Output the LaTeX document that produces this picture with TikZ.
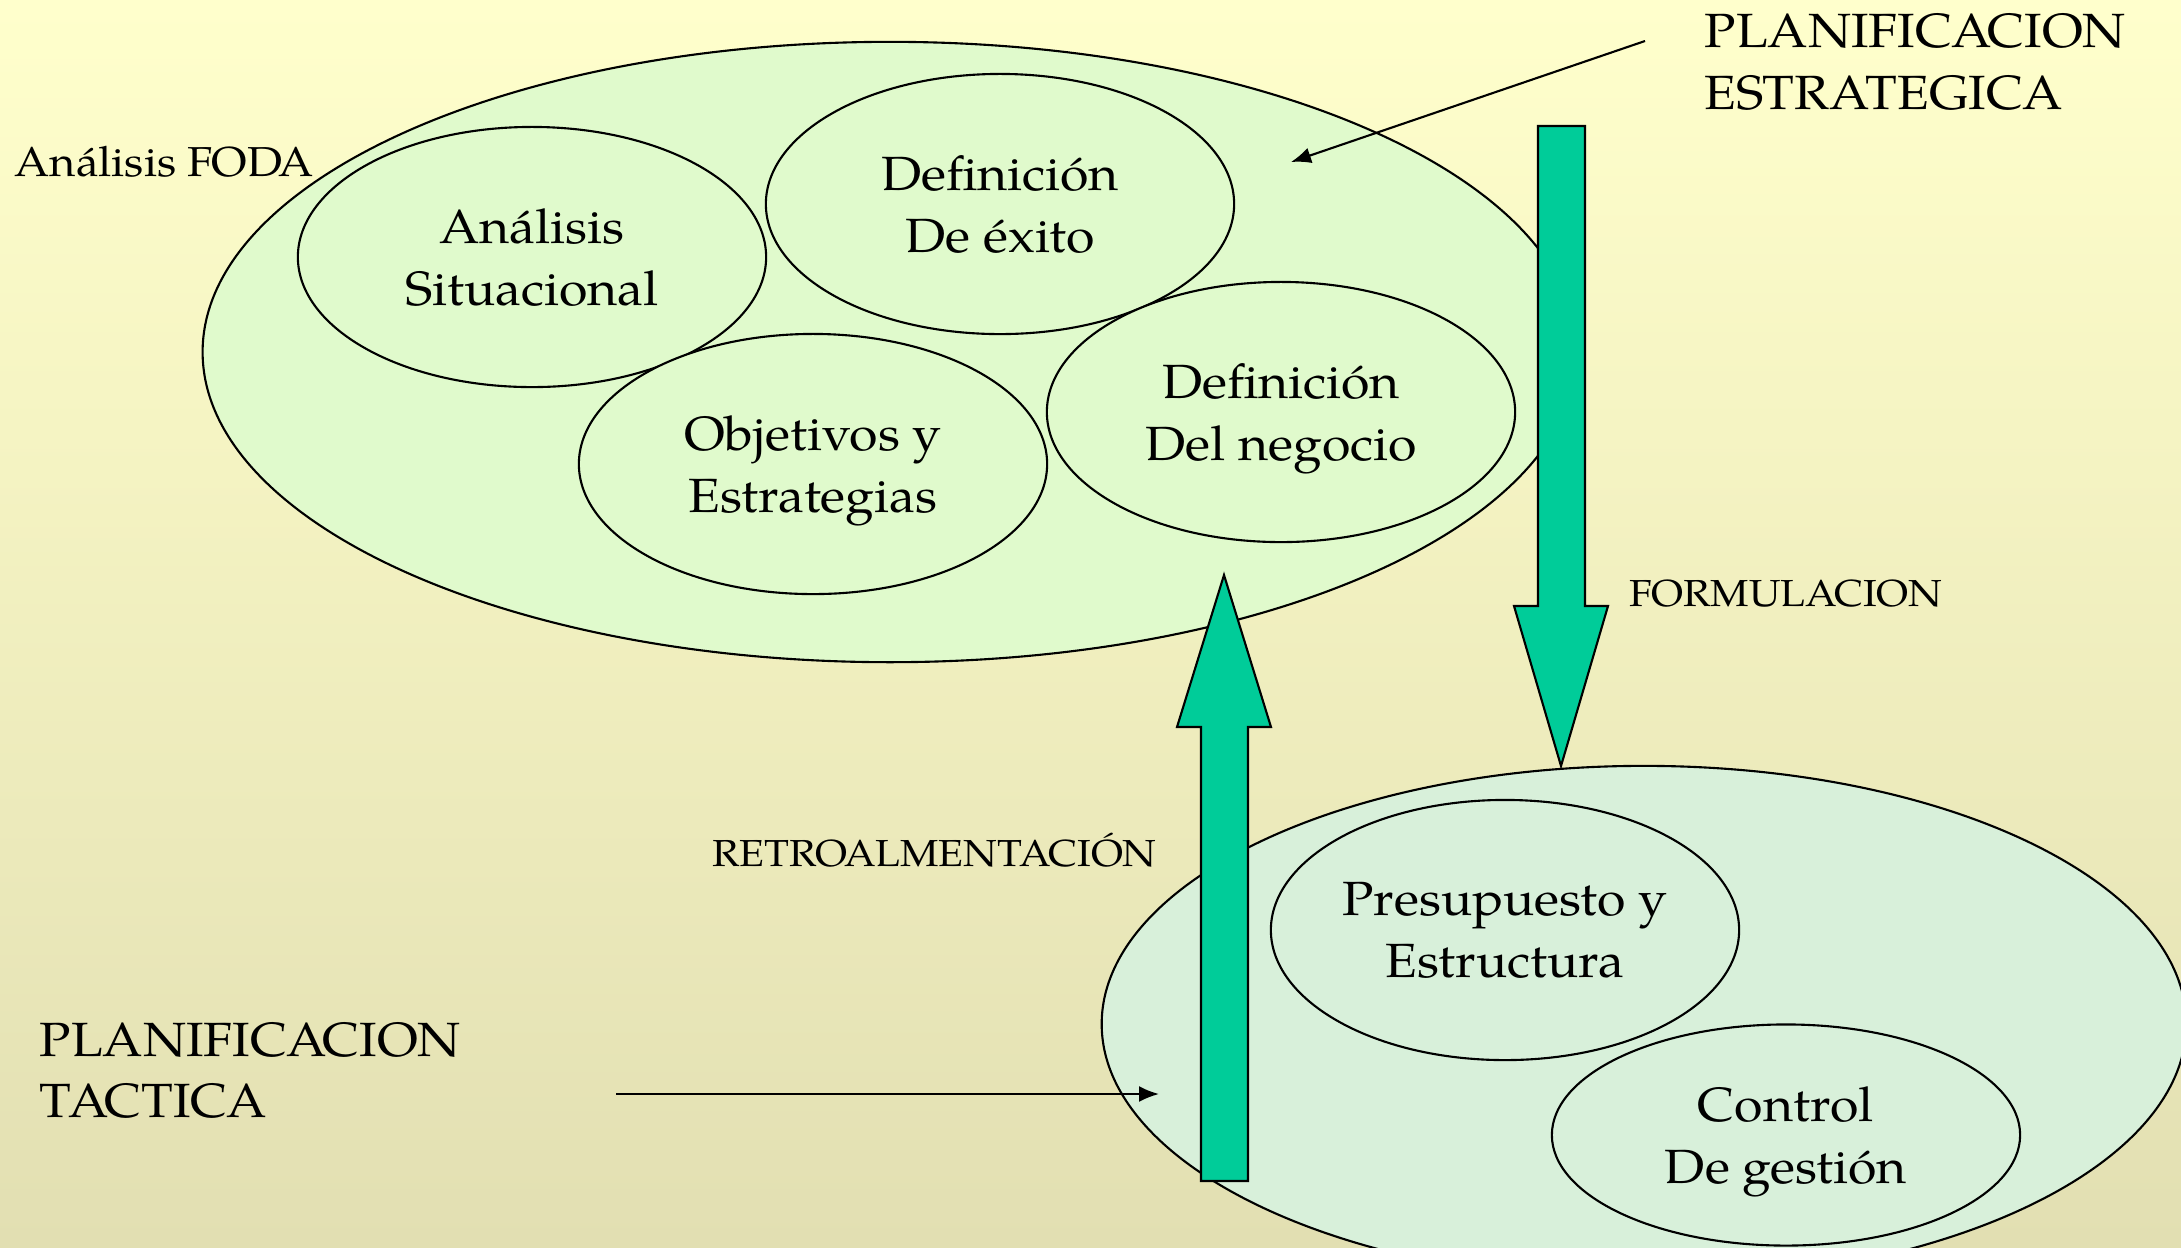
\documentclass[tikz,border=0pt]{standalone}
\usepackage{fontspec}
\setmainfont{TeX Gyre Pagella}[FakeStretch=1.08]
\usetikzlibrary{shapes.geometric,arrows.meta}
\definecolor{bgtop}{RGB}{255,255,204}
\definecolor{bgbot}{RGB}{226,223,178}
\definecolor{topfill}{RGB}{224,250,204}
\definecolor{botfill}{RGB}{216,240,218}
\definecolor{arrowfill}{RGB}{0,204,153}
\begin{document}
\begin{tikzpicture}[x=0.01cm,y=-0.01cm,
  outline/.style={draw=black, line width=0.6pt},
  bubble/.style={ellipse, outline, fill=topfill, inner sep=0pt,
    minimum width=4.68cm, minimum height=2.6cm, align=center, text depth=0pt,
    font=\fontsize{13.66}{17.5}\selectfont},
  bigtext/.style={anchor=base west, inner sep=0pt, font=\fontsize{13.66}{17.5}\selectfont},
  smalltext/.style={anchor=base west, inner sep=0pt, font=\fontsize{10.7}{13}\selectfont},
  blockarrow/.style={outline, fill=arrowfill, line join=miter},
  pointer/.style={draw=black, line width=0.6pt, -{Latex[length=0.2cm,width=0.16cm]}}]
\useasboundingbox (0,0) rectangle (2181,1247);
\shade[top color=bgtop, bottom color=bgbot] (0,0) rectangle (2181,1247);

% strategic planning
\node[ellipse, outline, fill=topfill, inner sep=0pt, minimum width=13.74cm, minimum height=6.2cm] (estr) at (890,352) {};
\node[bubble] (sit) at (532,257) {Análisis\\Situacional};
\node[bubble] (exito) at (1000,204) {Definición\\De éxito};
\node[bubble] (obj) at (813,464) {Objetivos y\\Estrategias};
\node[bubble] (neg) at (1281,412) {Definición\\Del negocio};

% tactical planning
\node[ellipse, outline, fill=botfill, inner sep=0pt, minimum width=10.84cm, minimum height=5.16cm] (tact) at (1644,1024) {};
\node[bubble, fill=botfill] (pres) at (1505,930) {Presupuesto y\\Estructura};
\node[bubble, fill=botfill, minimum height=2.21cm] (ctrl) at (1786,1135) {Control\\De gestión};

% block arrows
\draw[blockarrow] (1538,126) -- (1585,126) -- (1585,606) -- (1608,606) -- (1561,766)
  -- (1514,606) -- (1538,606) -- cycle;
\draw[blockarrow] (1201,1181) -- (1248,1181) -- (1248,727) -- (1271,727) -- (1224,575)
  -- (1177,727) -- (1201,727) -- cycle;

% labels
\node[inner sep=0pt, anchor=base west, font=\fontsize{11.9}{14}\selectfont] (foda) at (14,176) {Análisis FODA};
\node[bigtext] (pe1) at (1704,47) {PLANIFICACION};
\node[bigtext] (pe2) at (1704,109) {ESTRATEGICA};
\node[bigtext] (pt1) at (39,1056) {PLANIFICACION};
\node[bigtext] (pt2) at (39,1117) {TACTICA};
\node[smalltext] (form) at (1629,606) {FORMULACION};
\node[smalltext] (retro) at (712,866) {RETROALMENTACIÓN};

% pointers
\coordinate (sA) at (1645,41);
\coordinate (sB) at (1291,162);
\draw[pointer] (sA) -- (sB);
\coordinate (tA) at (616,1094);
\coordinate (tB) at (1159,1094);
\draw[pointer] (tA) -- (tB);
\end{tikzpicture}
\end{document}
